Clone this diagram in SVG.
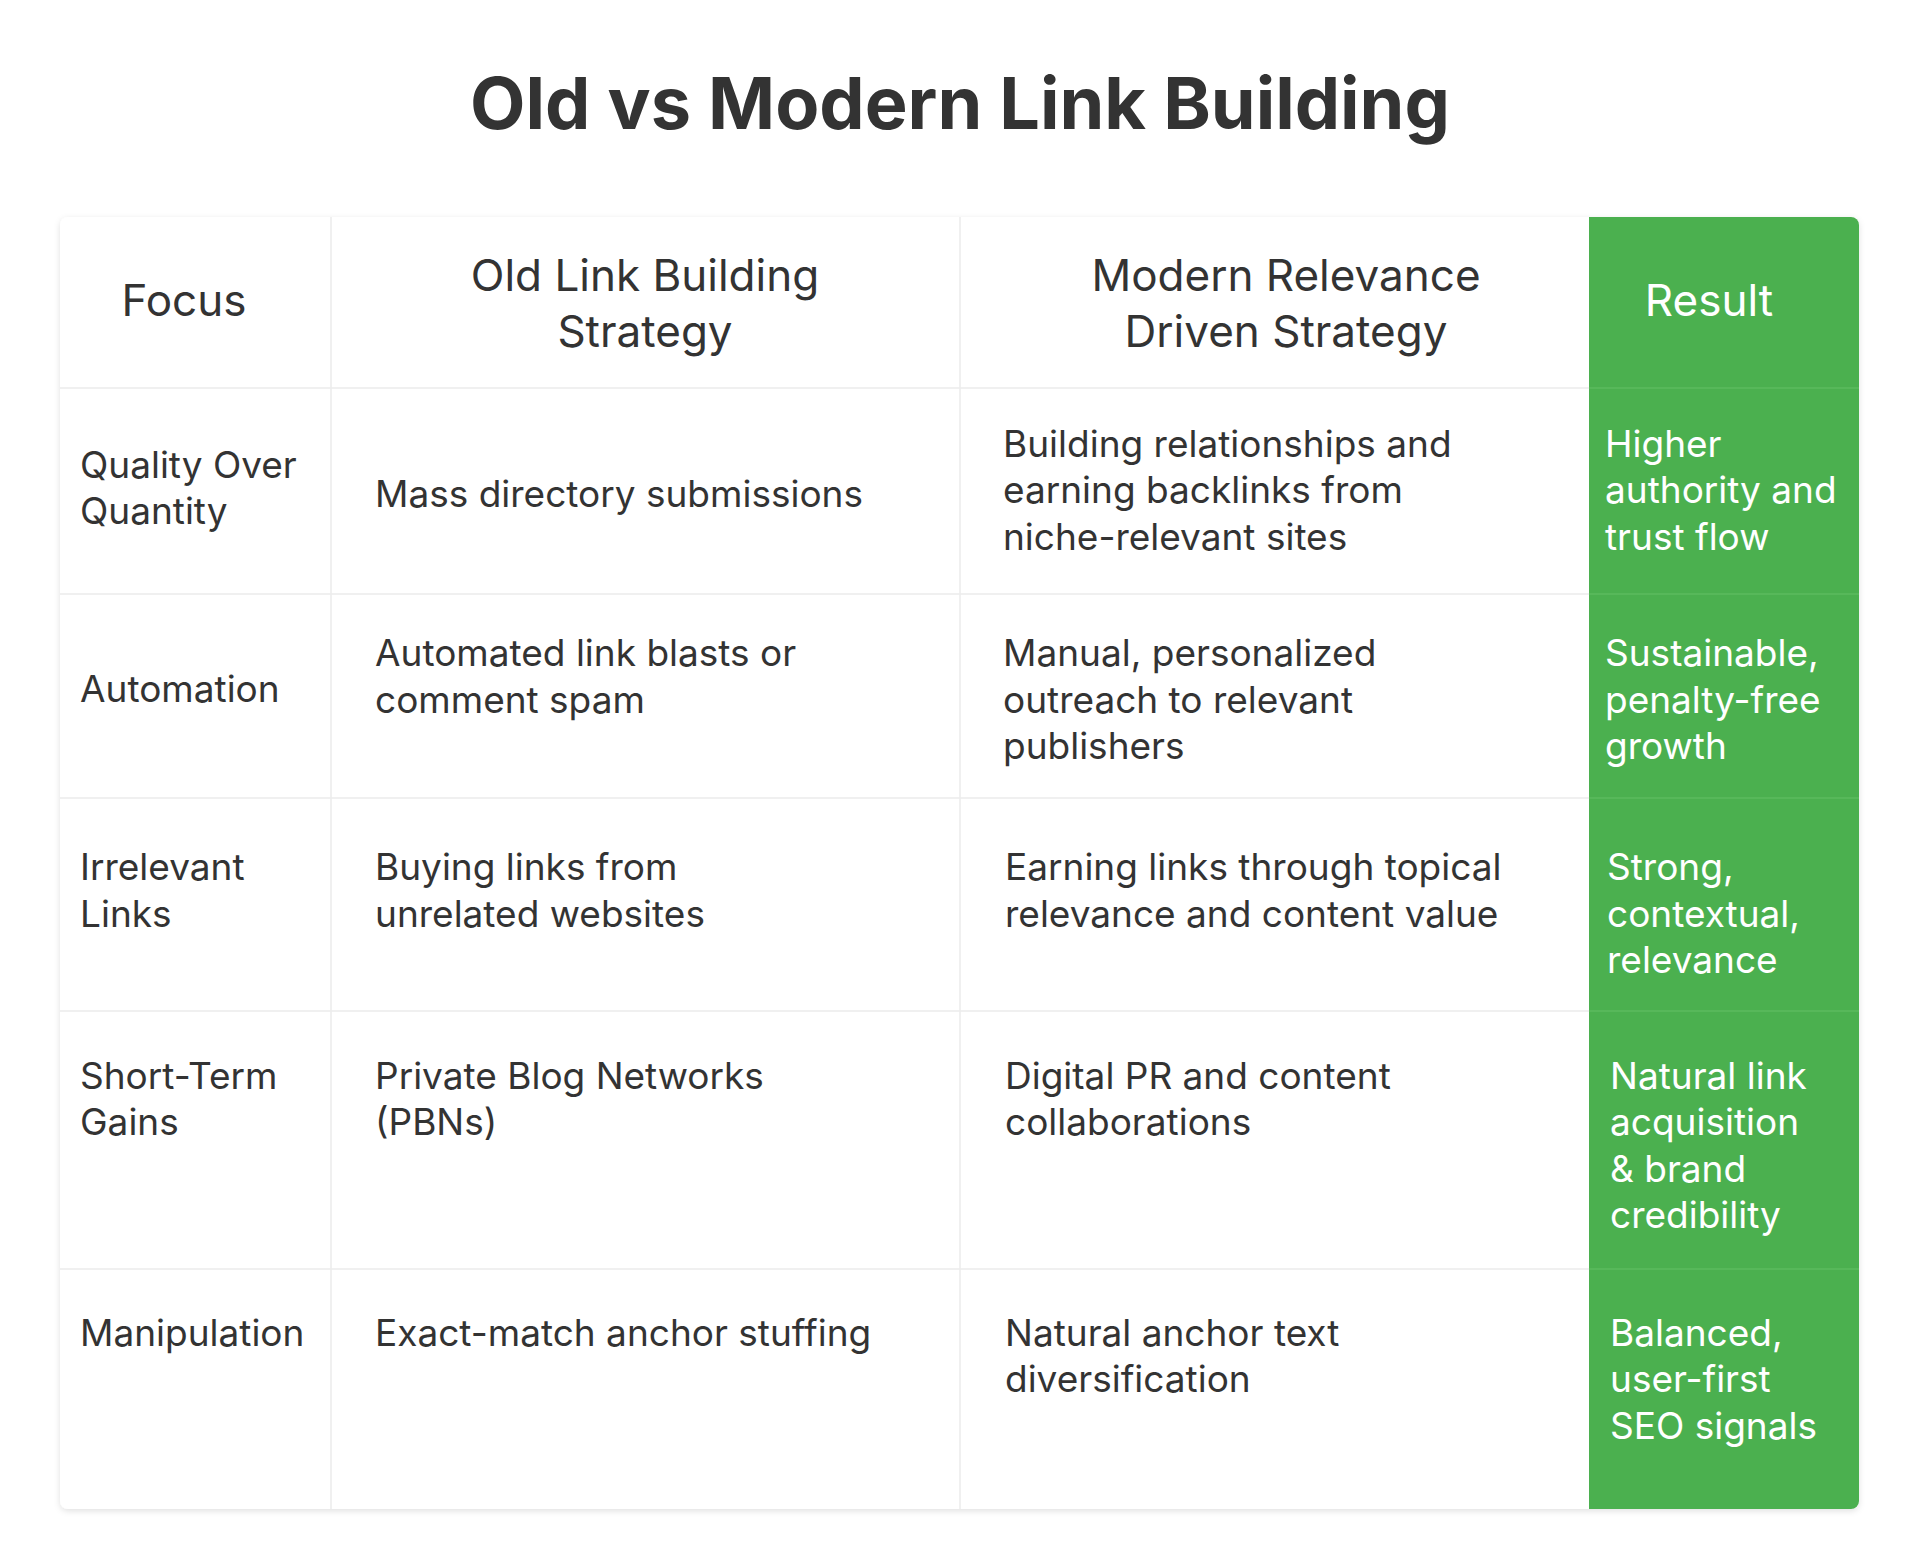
<svg xmlns="http://www.w3.org/2000/svg" width="1920" height="1560" viewBox="0 0 1920 1560">
<style>
text{font-family:Inter,"Noto Sans",sans-serif;fill:#333}
.t{font-size:72px;font-weight:700;text-anchor:middle}
.h{font-size:44px;text-anchor:middle}
.b{font-size:37px}
.w{fill:#fff}
.g{stroke:#ececec;stroke-width:1.5}
</style>
<defs><filter id="sh" x="-5%" y="-5%" width="110%" height="110%"><feDropShadow dx="0" dy="2" stdDeviation="3" flood-color="#000" flood-opacity="0.12"/></filter></defs>
<rect width="1920" height="1560" fill="#fff"/>
<text class="t" x="960" y="129">Old vs Modern Link Building</text>
<g id="table">
<rect x="60" y="217" width="1799" height="1292" rx="8" fill="#fff" filter="url(#sh)"/>
<path d="M1589 217H1851a8 8 0 0 1 8 8V1501a8 8 0 0 1-8 8H1589Z" fill="#4bb04f"/>
</g>
<g id="grid">
<path class="g" d="M331 217V1509M960 217V1509M60 388H1589M60 594H1589M60 798H1589M60 1011H1589M60 1269H1589"/>
<path d="M1589 388H1859M1589 594H1859M1589 798H1859M1589 1011H1859M1589 1269H1859" stroke="#5cbb5f" stroke-width="1.5"/>
</g>
<g id="header">
<text class="h" x="184" y="316">Focus</text>
<text class="h" x="645" y="291">Old Link Building</text>
<text class="h" x="645" y="347">Strategy</text>
<text class="h" x="1286" y="291">Modern Relevance</text>
<text class="h" x="1286" y="347">Driven Strategy</text>
<text class="h w" x="1709" y="316">Result</text>
</g>
<g id="row1" class="b">
<text class="b" x="80" y="478">Quality Over</text><text class="b" x="80" y="524">Quantity</text>
<text class="b" x="375" y="507">Mass directory submissions</text>
<text class="b" x="1003" y="457">Building relationships and</text><text class="b" x="1003" y="503">earning backlinks from</text><text class="b" x="1003" y="550">niche-relevant sites</text>
<text class="b w" x="1605" y="457">Higher</text><text class="b w" x="1605" y="503">authority and</text><text class="b w" x="1605" y="550">trust flow</text>
</g>
<g id="row2">
<text class="b" x="80" y="702">Automation</text>
<text class="b" x="375" y="666">Automated link blasts or</text><text class="b" x="375" y="713">comment spam</text>
<text class="b" x="1003" y="666">Manual, personalized</text><text class="b" x="1003" y="713">outreach to relevant</text><text class="b" x="1003" y="759">publishers</text>
<text class="b w" x="1605" y="666">Sustainable,</text><text class="b w" x="1605" y="713">penalty-free</text><text class="b w" x="1605" y="759">growth</text>
</g>
<g id="row3">
<text class="b" x="80" y="880">Irrelevant</text><text class="b" x="80" y="927">Links</text>
<text class="b" x="375" y="880">Buying links from</text><text class="b" x="375" y="927">unrelated websites</text>
<text class="b" x="1005" y="880">Earning links through topical</text><text class="b" x="1005" y="927">relevance and content value</text>
<text class="b w" x="1607" y="880">Strong,</text><text class="b w" x="1607" y="927">contextual,</text><text class="b w" x="1607" y="973">relevance</text>
</g>
<g id="row4">
<text class="b" x="80" y="1089">Short-Term</text><text class="b" x="80" y="1135">Gains</text>
<text class="b" x="375" y="1089">Private Blog Networks</text><text class="b" x="375" y="1135">(PBNs)</text>
<text class="b" x="1005" y="1089">Digital PR and content</text><text class="b" x="1005" y="1135">collaborations</text>
<text class="b w" x="1610" y="1089">Natural link</text><text class="b w" x="1610" y="1135">acquisition</text><text class="b w" x="1610" y="1182">&amp; brand</text><text class="b w" x="1610" y="1228">credibility</text>
</g>
<g id="row5">
<text class="b" x="80" y="1346">Manipulation</text>
<text class="b" x="375" y="1346">Exact-match anchor stuffing</text>
<text class="b" x="1005" y="1346">Natural anchor text</text><text class="b" x="1005" y="1392">diversification</text>
<text class="b w" x="1610" y="1346">Balanced,</text><text class="b w" x="1610" y="1392">user-first</text><text class="b w" x="1610" y="1439">SEO signals</text>
</g>
</svg>
